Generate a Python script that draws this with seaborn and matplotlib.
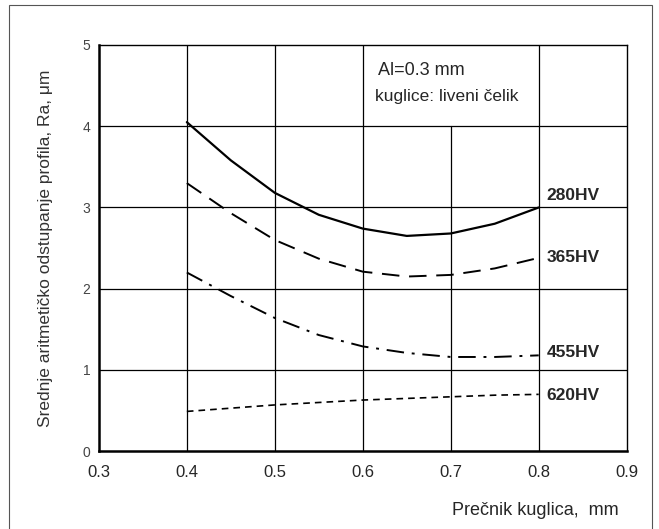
import matplotlib.pyplot as plt
import seaborn as sns
import pandas as pd
from matplotlib.patches import Rectangle

# precnik kuglice (mm) i Ra (um) ocitano sa dijagrama
precnik = [0.40, 0.45, 0.50, 0.55, 0.60, 0.65, 0.70, 0.75, 0.80]
ra_280 = [4.05, 3.58, 3.18, 2.91, 2.74, 2.65, 2.68, 2.80, 3.00]
ra_365 = [3.30, 2.93, 2.60, 2.37, 2.21, 2.15, 2.17, 2.25, 2.38]
ra_455 = [2.20, 1.91, 1.64, 1.43, 1.29, 1.21, 1.16, 1.16, 1.18]
ra_620 = [0.49, 0.53, 0.57, 0.60, 0.63, 0.65, 0.67, 0.69, 0.70]
oznake = ["280HV", "365HV", "455HV", "620HV"]
x_ticks = [0.3, 0.4, 0.5, 0.6, 0.7, 0.8, 0.9]
y_ticks = [0, 1, 2, 3, 4, 5]

sns.set_style("white")
plt.rcParams['font.family'] = ['Liberation Sans', 'DejaVu Sans']

fig = plt.figure(figsize=(6.59, 5.29), dpi=100)
ax = fig.add_axes([0.150, 0.147, 0.801, 0.768])

# okvir oko cijele slike
fig.patches.append(Rectangle((0.014, -0.01), 0.975, 1.0, transform=fig.transFigure,
                             fill=False, edgecolor="#555555", linewidth=0.8))

stilovi = ["-", (0, (9, 5)), (0, (9, 4, 1.5, 4)), (0, (4, 3))]
debljine = [1.6, 1.4, 1.4, 1.2]
serije = [ra_280, ra_365, ra_455, ra_620]
for ra, st, lw in zip(serije, stilovi, debljine):
    df = pd.DataFrame({"x": precnik, "ra": ra})
    sns.lineplot(data=df, x="x", y="ra", ax=ax, color="black",
                 linestyle=st, linewidth=lw)

ax.set_xlim(0.3, 0.9)
ax.set_ylim(0, 5)
ax.set_xticks(x_ticks)
ax.set_xticklabels([f"{v:.1f}" for v in x_ticks], fontsize=12)
ax.set_yticks(y_ticks)
ax.set_yticklabels([str(v) for v in y_ticks], fontsize=10, color="#444444")
ax.tick_params(axis="x", length=0, pad=10)
ax.tick_params(axis="y", length=0, pad=6)

# mreza
for xv in x_ticks[1:-1]:
    ax.axvline(xv, color="black", linewidth=0.9,
               ymax=0.8 if abs(xv - 0.7) < 1e-9 else 1.0)
for yv in y_ticks[1:-1]:
    ax.axhline(yv, color="black", linewidth=0.9)

for s in ["left", "bottom"]:
    ax.spines[s].set_linewidth(1.8)
for s in ["right", "top"]:
    ax.spines[s].set_linewidth(1.0)
for s in ax.spines.values():
    s.set_color("black")

# oznake krivulja
pozicije_y = [3.15, 2.38, 1.21, 0.69]
for oz, yy in zip(oznake, pozicije_y):
    ax.text(0.809, yy, oz, fontsize=12.5, fontweight="bold", va="center", ha="left")

ax.text(0.617, 4.69, "Al=0.3 mm", fontsize=13, va="center")
ax.text(0.614, 4.37, "kuglice: liveni čelik", fontsize=12.5, va="center")

ax.set_xlabel("Prečnik kuglica,  mm", fontsize=13)
ax.xaxis.set_label_coords(0.985, -0.125)
ax.xaxis.label.set_horizontalalignment("right")
ax.set_ylabel("Srednje aritmetičko odstupanje profila, Ra, μm", fontsize=12.5, color="#333333")
ax.yaxis.set_label_coords(-0.087, 0.5)

fig.savefig("out.png", dpi=100)
